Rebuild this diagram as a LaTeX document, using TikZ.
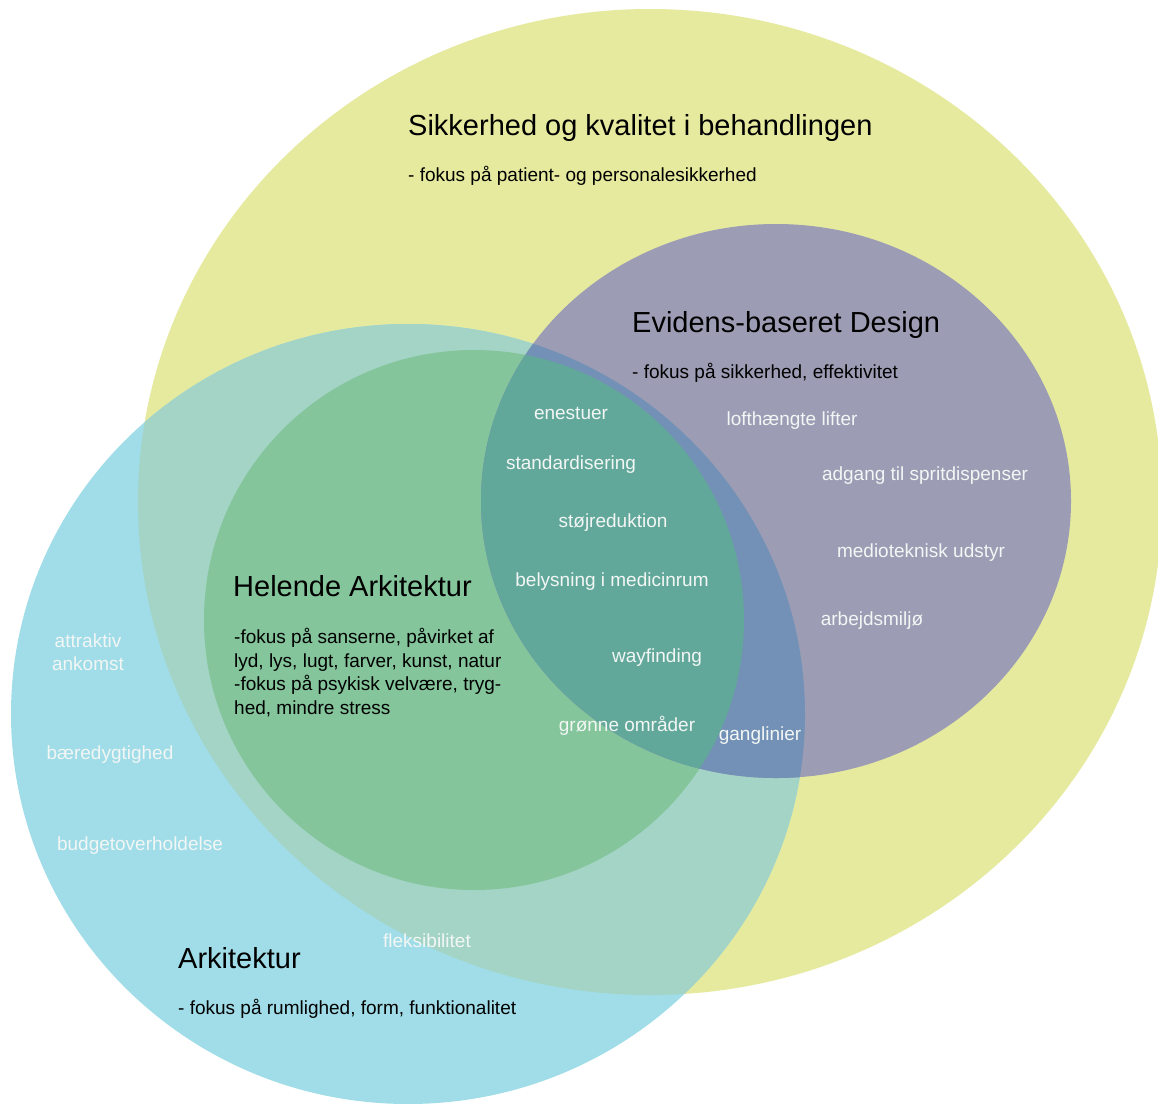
\documentclass[tikz,border=0pt]{standalone}
\usepackage{fontspec}
\setmainfont{Liberation Sans}
\definecolor{cY}{RGB}{230,234,158}
\definecolor{cC}{RGB}{160,221,232}
\definecolor{cCY}{RGB}{163,212,197}
\definecolor{cG}{RGB}{132,197,155}
\definecolor{cP}{RGB}{156,157,180}
\definecolor{cGP}{RGB}{98,168,154}
\definecolor{cCP}{RGB}{115,145,182}
\definecolor{lblc}{RGB}{242,246,244}
\begin{document}
\begin{tikzpicture}[x=1pt,y=-1pt,
  head/.style={font=\fontsize{29}{34}\selectfont, anchor=base west, inner sep=0pt},
  sub/.style={font=\fontsize{19}{23.5}\selectfont, anchor=base west, inner sep=0pt, align=left},
  lbl/.style={font=\fontsize{19}{23}\selectfont, text=lblc, anchor=base, inner sep=0pt, align=center}]
\useasboundingbox (0,0) rectangle (1158,1103);
\fill[white] (0,0) rectangle (1158,1103);
\coordinate (Y) at (650,502);
\coordinate (C) at (408,714);
\coordinate (G) at (474,620);
\coordinate (P) at (776,501);
% regions
\fill[cY] (Y) ellipse [x radius=512pt, y radius=493pt];
\fill[cC] (C) ellipse [x radius=397pt, y radius=390pt];
\begin{scope}
  \clip (C) ellipse [x radius=397pt, y radius=390pt];
  \fill[cCY] (Y) ellipse [x radius=512pt, y radius=493pt];
\end{scope}
\fill[cG] (G) circle [radius=270pt];
\fill[cP] (P) ellipse [x radius=295pt, y radius=277pt];
\begin{scope}
  \clip (P) ellipse [x radius=295pt, y radius=277pt];
  \fill[cCP] (C) ellipse [x radius=397pt, y radius=390pt];
  \fill[cGP] (G) circle [radius=270pt];
\end{scope}
% headings
\node[head] (t1) at (408,135) {Sikkerhed og kvalitet i behandlingen};
\node[sub]  (s1) at (408,181) {- fokus på patient- og personalesikkerhed};
\node[head] (t2) at (632,332) {Evidens-baseret Design};
\node[sub]  (s2) at (632,378) {- fokus på sikkerhed, effektivitet};
\node[head] (t3) at (233,596) {Helende Arkitektur};
\node[sub, anchor=north west] (s3) at (234,628) {-fokus på sanserne, påvirket af\\lyd, lys, lugt, farver, kunst, natur\\-fokus på psykisk velvære, tryg-\\hed, mindre stress};
\node[head] (t4) at (178,968) {Arkitektur};
\node[sub]  (s4) at (178,1014) {- fokus på rumlighed, form, funktionalitet};
% labels
\node[lbl] (l1) at (571,419) {enestuer};
\node[lbl] (l2) at (792,425) {lofthængte lifter};
\node[lbl] (l3) at (571,469) {standardisering};
\node[lbl] (l4) at (925,480) {adgang til spritdispenser};
\node[lbl] (l5) at (613,527) {støjreduktion};
\node[lbl] (l6) at (921,557) {medioteknisk udstyr};
\node[lbl] (l7) at (612,586) {belysning i medicinrum};
\node[lbl] (l8) at (872,625) {arbejdsmiljø};
\node[lbl] (l9) at (657,662) {wayfinding};
\node[lbl] (l10) at (627,731) {grønne områder};
\node[lbl] (l11) at (760,740) {ganglinier};
\node[lbl] (l12) at (88,670) {attraktiv\\ankomst};
\node[lbl] (l13) at (110,759) {bæredygtighed};
\node[lbl] (l14) at (140,850) {budgetoverholdelse};
\node[lbl] (l15) at (427,947) {fleksibilitet};
\end{tikzpicture}
\end{document}
